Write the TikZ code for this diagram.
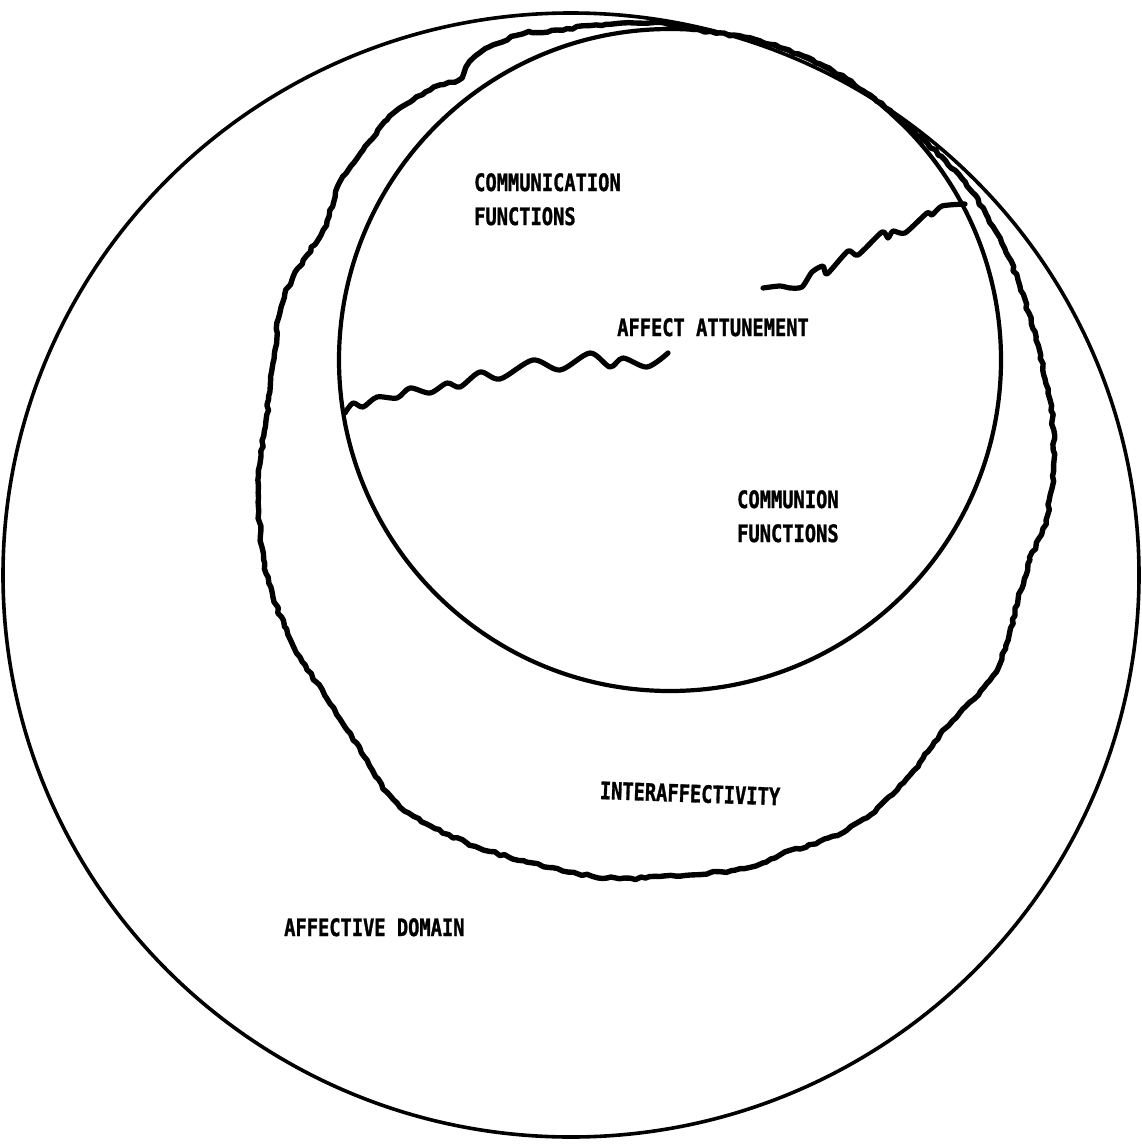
\documentclass[tikz,border=0pt]{standalone}
\usepackage{fontspec}
\newfontfamily\lblfont{DejaVu Sans Mono}[FakeStretch=0.78, FakeBold=1.2]
\usetikzlibrary{decorations.pathmorphing}
\tikzset{
  lbl/.style={font=\lblfont\bfseries\fontsize{24}{34}\selectfont, align=left, inner sep=0pt, anchor=north west},
  outerline/.style={line width=3.6pt},
  innerline/.style={line width=4.2pt},
  roughline/.style={line width=5.4pt, line join=round, line cap=round,
    decorate, decoration={random steps, segment length=5pt, amplitude=1.3pt}},
  crackline/.style={line width=5.2pt, line join=round, line cap=round}
}
\begin{document}
\begin{tikzpicture}[x=1pt,y=-1pt]
\useasboundingbox (0,0) rectangle (1142,1145);
\pgfmathsetseed{11}
% affective domain
\draw[outerline] (571,575) ellipse [x radius=568pt, y radius=562pt];
% communication / communion circle
\draw[innerline] (670,360) circle [radius=331pt];
% interaffectivity (rough closed curve)
\draw[roughline] plot[smooth cycle, tension=0.55] coordinates {
 (557,30) (623,23) (667,24) (700,30) (760,41) (820,64) (870,95) (905,124)
 (945,160) (972,192) (995,230) (1018,280) (1036,340) (1050,400) (1054,460)
 (1046,520) (1030,560) (1018,600) (1008,640) (990,680) (947,727) (897,790)
 (847,830) (780,855) (750,867) (690,875) (607,878) (533,863) (467,843)
 (400,807) (367,760) (333,707) (300,657) (273,597) (262,547) (258,480)
 (266,420) (273,363) (280,313) (293,277) (323,230) (340,182) (363,150)
 (387,120) (413,100) (440,85) (458,80) (470,62) (493,45) (523,34)};
% affect attunement cracks
\draw[crackline] plot[smooth, tension=0.5] coordinates {
 (345,413) (353,403) (363,407) (377,397) (397,398) (410,388) (430,393)
 (447,383) (460,387) (480,372) (500,379) (533,360) (560,370) (590,353)
 (610,367) (623,358) (647,367) (668,353)};
\draw[crackline] plot[smooth, tension=0.4] coordinates {
 (763,288) (780,286) (790,288) (802,287) (812,272) (823,266) (827,274)
 (848,251) (858,255) (882,232) (888,238) (893,231) (905,233) (927,213)
 (932,215) (942,206) (965,204)};
% labels
\node[lbl] (comm) at (474,173) {COMMUNICATION\\FUNCTIONS};
\node[lbl] (attune) at (617,318) {AFFECT ATTUNEMENT};
\node[lbl] (commun) at (737,490) {COMMUNION\\FUNCTIONS};
\node[lbl, rotate=-2] (inter) at (600,781) {INTERAFFECTIVITY};
\node[lbl] (domain) at (284,918) {AFFECTIVE DOMAIN};
\end{tikzpicture}
\end{document}
